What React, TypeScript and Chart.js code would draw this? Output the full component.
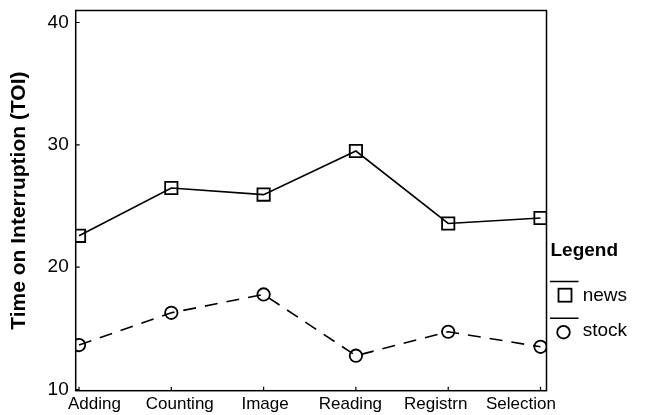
import React, { useEffect, useRef } from 'react';
import { Chart, registerables } from 'chart.js';

Chart.register(...registerables);

const categories = ['Adding', 'Counting', 'Image', 'Reading', 'Registrn', 'Selection'];
const newsValues = [22.56, 26.47, 25.93, 29.49, 23.57, 24.02];
const stockValues = [13.63, 16.27, 17.77, 12.76, 14.72, 13.49];
const yTicks = [10, 20, 30, 40];
const seriesNames = ['news', 'stock'];
const yTitle = 'Time on Interruption (TOI)';
const legendTitle = 'Legend';

const FONT = "'Liberation Sans', Arial, Helvetica, sans-serif";

const framePlugin = {
  id: 'framePlugin',
  afterDraw(chart: any) {
    const { ctx, chartArea, scales } = chart;
    const { left, right, top, bottom } = chartArea;
    ctx.save();
    ctx.strokeStyle = '#000';
    ctx.lineWidth = 1.5;
    ctx.strokeRect(left, top, right - left, bottom - top);
    // inward ticks
    ctx.lineWidth = 1.2;
    ctx.beginPath();
    yTicks.forEach((v) => {
      const y = scales.y.getPixelForValue(v);
      ctx.moveTo(left, y);
      ctx.lineTo(left + 4, y);
    });
    categories.forEach((_, i) => {
      const x = scales.x.getPixelForValue(i);
      ctx.moveTo(x, bottom);
      ctx.lineTo(x, bottom - 4);
    });
    ctx.stroke();

    // legend
    const R = right;
    ctx.fillStyle = '#000';
    ctx.textAlign = 'left';
    ctx.textBaseline = 'middle';
    ctx.font = `bold 19px ${FONT}`;
    ctx.fillText(legendTitle, R + 4, top + 240);

    ctx.lineWidth = 1.5;
    ctx.beginPath();
    ctx.moveTo(R + 3.5, top + 271);
    ctx.lineTo(R + 32, top + 271);
    ctx.moveTo(R + 3.5, top + 307.7);
    ctx.lineTo(R + 32, top + 307.7);
    ctx.stroke();

    ctx.lineWidth = 1.8;
    ctx.strokeRect(R + 12, top + 278.2, 13, 13);
    ctx.beginPath();
    ctx.arc(R + 17, top + 321.7, 6.3, 0, Math.PI * 2);
    ctx.stroke();

    ctx.font = `19px ${FONT}`;
    ctx.fillText(seriesNames[0], R + 36.2, top + 285);
    ctx.fillText(seriesNames[1], R + 36.2, top + 320);
    ctx.restore();
  },
};

export default function App() {
  const ref = useRef<HTMLCanvasElement | null>(null);

  useEffect(() => {
    if (!ref.current) return;
    const chart = new Chart(ref.current, {
      type: 'line',
      data: {
        datasets: [
          {
            label: seriesNames[0],
            data: categories.map((_, i) => ({ x: i, y: newsValues[i] })),
            xAxisID: 'x',
            yAxisID: 'y',
            borderColor: '#000',
            borderWidth: 1.6,
            pointStyle: 'rect',
            pointRadius: 8.7,
            pointBorderWidth: 1.8,
            pointBorderColor: '#000',
            pointBackgroundColor: 'rgba(0,0,0,0)',
            tension: 0,
          },
          {
            label: seriesNames[1],
            data: categories.map((_, i) => ({ x: i, y: stockValues[i] })),
            xAxisID: 'x',
            yAxisID: 'y',
            borderColor: '#000',
            borderWidth: 1.6,
            borderDash: [13, 9],
            pointStyle: 'circle',
            pointRadius: 6.2,
            pointBorderWidth: 1.8,
            pointBorderColor: '#000',
            pointBackgroundColor: 'rgba(0,0,0,0)',
            tension: 0,
          },
        ],
      },
      options: {
        animation: false,
        responsive: false,
        layout: { padding: { left: 0, top: 10, right: 105.5, bottom: 0 } },
        plugins: { legend: { display: false }, tooltip: { enabled: false } },
        scales: {
          x: {
            type: 'linear',
            min: -0.036,
            max: 5.065,
            display: false,
          },
          xl: {
            type: 'linear',
            position: 'bottom',
            min: -0.22,
            max: 5.299,
            grid: { display: false, drawTicks: false },
            border: { display: false },
            ticks: {
              autoSkip: false,
              maxRotation: 0,
              padding: 3,
              color: '#000',
              font: { family: FONT, size: 17 },
              callback: (v: any) => categories[v as number] ?? '',
            },
            afterBuildTicks: (s: any) => {
              s.ticks = categories.map((_, i) => ({ value: i }));
            },
            afterFit: (s: any) => {
              s.height = 24.3;
              s.paddingLeft = 0;
              s.paddingRight = 0;
            },
          },
          y: {
            type: 'linear',
            min: 9.9,
            max: 40.98,
            grid: { display: false, drawTicks: false },
            border: { display: false },
            ticks: {
              color: '#000',
              padding: 7,
              font: { family: FONT, size: 19 },
            },
            afterBuildTicks: (s: any) => {
              s.ticks = yTicks.map((v) => ({ value: v }));
            },
            title: {
              display: true,
              text: yTitle,
              color: '#000',
              font: { family: FONT, size: 21, weight: 'bold' },
              padding: { top: 6.4, bottom: 0 },
            },
            afterFit: (s: any) => {
              s.width = 75.7;
              s.paddingTop = 0;
              s.paddingBottom = 0;
            },
          },
        },
      } as any,
      plugins: [framePlugin],
    });
    return () => chart.destroy();
  }, []);

  return (
    <canvas
      ref={ref}
      width={652}
      height={415}
      style={{ position: 'fixed', left: 0, top: 0, width: 652, height: 415, display: 'block' }}
    />
  );
}
